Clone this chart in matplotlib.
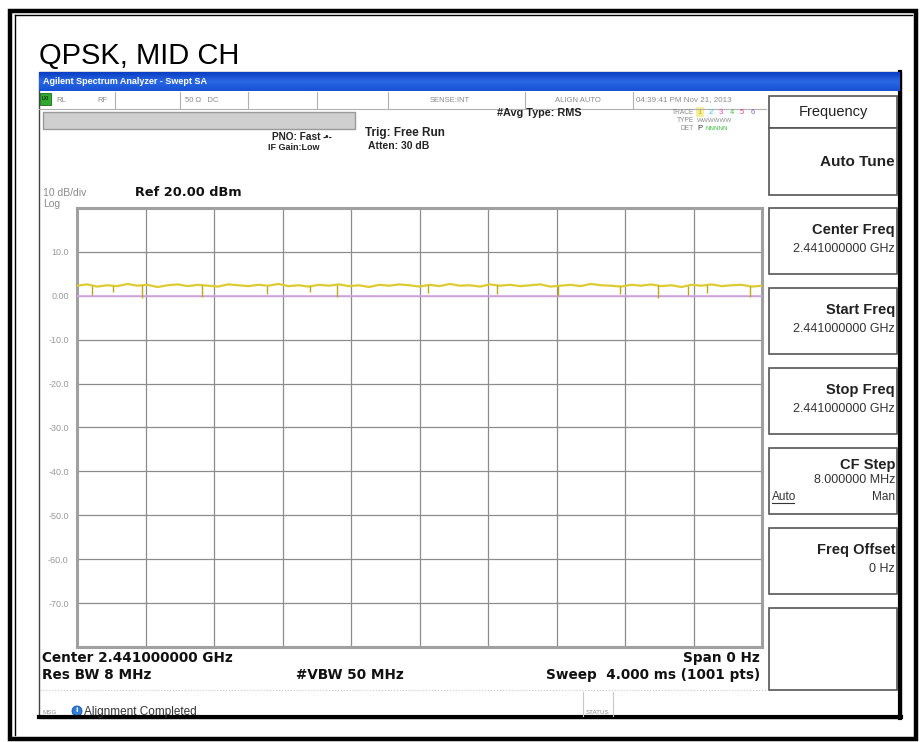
import numpy as np
import matplotlib
matplotlib.use("Agg")
import matplotlib.pyplot as plt
from matplotlib.patches import Rectangle, Circle

# valores
sweep_ms = 4.0
ref_dbm = 20.0
bottom_dbm = -80.0
ytick_dbm = [10, 0, -10, -20, -30, -40, -50, -60, -70]
ytick_labels = ["10.0", "0.00", "-10.0", "-20.0", "-30.0", "-40.0", "-50.0", "-60.0", "-70.0"]

trace_dbm = [2.3, 2.6, 2.1, 2.4, 2.2, 2.7, 2.3, 2.5, 2.0, 2.4,
             2.6, 2.2, 2.5, 2.3, 2.1, 2.6, 2.4, 2.2, 2.5, 2.3,
             2.7, 2.2, 2.4, 2.1, 2.5, 2.3, 2.6, 2.2, 2.4, 2.0,
             2.5, 2.3, 2.6, 2.4, 2.1, 2.5, 2.2, 2.7, 2.3, 2.4,
             2.1, 2.6, 2.3, 2.5, 2.2, 2.4, 2.6, 2.1, 2.3, 2.5,
             2.2, 2.7, 2.4, 2.3, 2.1, 2.5, 2.3, 2.6, 2.2, 2.4,
             2.0, 2.5, 2.3, 2.6, 2.2, 2.4, 2.5, 2.1, 2.3]
dip_ms = [0.09, 0.21, 0.38, 0.73, 1.11, 1.36, 1.52, 2.05, 2.45, 2.81, 3.17, 3.39, 3.57, 3.68, 3.93]
dip_dbm = [0.2, 0.8, -0.4, -0.2, 0.5, 0.9, -0.3, 0.6, 0.4, -0.1, 0.3, -0.5, 0.2, 0.7, -0.2]
display_line_dbm = 0.0

panel_boxes = [("Center Freq", "2.441000000 GHz"),
               ("Start Freq", "2.441000000 GHz"),
               ("Stop Freq", "2.441000000 GHz"),
               ("CF Step", "8.000000 MHz"),
               ("Freq Offset", "0 Hz")]

W, H = 921, 742
fig = plt.figure(figsize=(W / 100, H / 100), dpi=100)
fig.patch.set_facecolor("white")

# camada de decoracao em coordenadas de pixel
deco = fig.add_axes([0, 0, 1, 1])
deco.set_xlim(0, W)
deco.set_ylim(H, 0)
deco.axis("off")

FONT = "Liberation Sans"
SCR = "DejaVu Sans"  # fonte larga, parecida com a da tela do analisador


def txt(x, y, s, size=8, weight="normal", color="black", ha="left", va="center", family=FONT, **kw):
    deco.text(x, y, s, fontsize=size, fontweight=weight, color=color, ha=ha, va=va,
              family=family, **kw)


def box(x, y, w, h, fc="none", ec="black", lw=1.0, z=1):
    deco.add_patch(Rectangle((x, y), w, h, facecolor=fc, edgecolor=ec, linewidth=lw, zorder=z))


# moldura externa
box(10, 11, 906, 728, ec="black", lw=3.2)
deco.plot([15, 15], [15, 735], color="black", lw=1.0)
deco.plot([15, 912], [15, 15], color="black", lw=1.0)

# titulo
txt(39, 64, "QPSK, MID CH", size=21, va="baseline")

# janela do analisador
box(39, 72, 862, 646, fc="white", ec="#444444", lw=1.0)
deco.plot([900, 900], [72, 718], color="black", lw=3)
deco.plot([39, 901], [717, 717], color="black", lw=3)

# barra azul de titulo
grad = np.linspace(0, 1, 20).reshape(-1, 1)
deco.imshow(grad, extent=(39, 899, 91, 72), aspect="auto",
            cmap=matplotlib.colors.LinearSegmentedColormap.from_list("b", ["#0b3fc4", "#2a68e4", "#1652d4"]),
            zorder=2)
txt(43, 81, "Agilent Spectrum Analyzer - Swept SA", size=6.5, weight="bold", color="white", zorder=3)

# linha de status
grey = "#8a8a8a"
box(40, 93, 11, 12, fc="#2faa2f", ec="#1a6a1a", lw=0.6)
txt(45.5, 99, "LXI", size=3.5, color="black", ha="center")
for sx in [115, 180, 248, 317, 388, 525, 633]:
    deco.plot([sx, sx], [92, 108], color="#b0b0b0", lw=0.8)
txt(56, 100, "RL", size=5.5, color=grey)
txt(97, 100, "RF", size=5.5, color=grey)
txt(185, 100, "50 Ω   DC", size=5.5, color=grey)
txt(430, 100, "SENSE:INT", size=5.5, color=grey)
txt(555, 100, "ALIGN AUTO", size=5.5, color=grey)
txt(636, 100, "04:39:41 PM Nov 21, 2013", size=5.8, color=grey)
deco.plot([39, 766], [108.5, 108.5], color="#b0b0b0", lw=0.8)

# barra cinza de marcador
box(43, 112, 312, 17, fc="#cfcfcf", ec="#9a9a9a", lw=1.0)

txt(272, 137, "PNO: Fast", size=7.3, weight="bold", color="#222222")
txt(323, 137, "-•-", size=7, weight="bold", color="#222222")
txt(268, 147, "IF Gain:Low", size=6.5, weight="bold", color="#222222")
txt(365, 133, "Trig: Free Run", size=8.5, weight="bold", color="#222222")
txt(368, 146, "Atten: 30 dB", size=7.5, weight="bold", color="#222222")
txt(497, 113, "#Avg Type: RMS", size=7.8, weight="bold", color="#222222")

txt(694, 112, "TRACE", size=4.8, color=grey, ha="right")
txt(694, 121, "TYPE", size=4.8, color=grey, ha="right")
txt(694, 129, "DET", size=4.8, color=grey, ha="right")
box(696, 107, 8, 10, fc="#f4f0a0", ec="none", lw=0)
trace_colors = ["#c8b400", "#30c0e0", "#e040c0", "#40c040", "#e04080", "#8060e0"]
for i, c in enumerate(trace_colors):
    txt(700 + i * 10.5, 112, str(i + 1), size=5.5, color=c, ha="center")
txt(697, 121, "WWWWWW", size=4.5, color=grey)
txt(697, 129, "P", size=5.5, color="#333333")
txt(705, 129, "NNNNN", size=4.5, color="#40c040")

txt(43, 193, "10 dB/div", size=7.5, color=grey)
txt(43, 204, "Log", size=7.5, color=grey)
txt(135, 193, "Ref 20.00 dBm", size=9.3, weight="bold", color="#111111", family=SCR)

# painel direito
pl, pw = 769, 128
box(pl, 96, pw, 32, fc="white", ec="#555555", lw=1.2)
txt(pl + pw / 2, 112, "Frequency", size=10.5, color="#222222", ha="center")
box(pl, 128, pw, 67, fc="white", ec="#555555", lw=1.2)
txt(895, 162, "Auto Tune", size=11, weight="bold", color="#222222", ha="right")
for i, (name, val) in enumerate(panel_boxes):
    top = 208 + i * 80
    box(pl, top, pw, 66, fc="white", ec="#555555", lw=1.2)
    if name == "CF Step":
        txt(895, top + 17, name, size=10.5, weight="bold", color="#222222", ha="right")
        txt(895, top + 32, val, size=9, color="#333333", ha="right")
        txt(772, top + 49, "Auto", size=8.5, color="#333333")
        deco.plot([772, 794], [top + 55, top + 55], color="#333333", lw=0.8)
        txt(895, top + 49, "Man", size=8.5, color="#333333", ha="right")
    else:
        txt(895, top + 22, name, size=10.5, weight="bold", color="#222222", ha="right")
        txt(895, top + 41, val, size=9, color="#333333", ha="right")
box(pl, 608, pw, 82, fc="white", ec="#555555", lw=1.2)

# textos de rodape
foot = dict(size=9.8, weight="bold", color="#111111", family=SCR)
txt(42, 658, "Center 2.441000000 GHz", **foot)
txt(42, 675, "Res BW 8 MHz", **foot)
txt(296, 675, "#VBW 50 MHz", **foot)
txt(760, 658, "Span 0 Hz", ha="right", **foot)
txt(760, 675, "Sweep  4.000 ms (1001 pts)", ha="right", **foot)
deco.plot([40, 766], [690, 690], color="#c8c8c8", lw=0.8, ls=":")
txt(42, 712, "MSG", size=4.5, color=grey)
deco.add_patch(Circle((77, 711), 5, facecolor="#2f7fd8", edgecolor="#1a4fa0", lw=0.6))
txt(77, 711, "i", size=6, weight="bold", color="white", ha="center")
txt(84, 712, "Alignment Completed", size=8.5, color="#333333")
deco.plot([583, 583], [692, 716], color="#c8c8c8", lw=0.8)
deco.plot([613, 613], [692, 716], color="#c8c8c8", lw=0.8)
txt(598, 712, "STATUS", size=4.5, color=grey, ha="center")

# area de grafico
x0, x1, y0, y1 = 77, 762, 208, 647
ax = fig.add_axes([x0 / W, 1 - y1 / H, (x1 - x0) / W, (y1 - y0) / H])
ax.set_facecolor("white")
ax.set_xlim(0, sweep_ms)
ax.set_ylim(bottom_dbm, ref_dbm)
ax.set_xticks(np.linspace(0, sweep_ms, 11))
ax.set_xticklabels([])
ax.set_yticks(ytick_dbm)
ax.set_yticklabels(ytick_labels, fontsize=6.5, color="#999999", family=FONT)
ax.tick_params(length=0, pad=6)
ax.grid(True, color="#8c8c8c", lw=0.9)
for sp in ax.spines.values():
    sp.set_color("#a0a0a0")
    sp.set_linewidth(2.2)

ax.axhline(display_line_dbm, color="#d6a6e6", lw=1.2, zorder=3)
t = np.linspace(0, sweep_ms, len(trace_dbm))
ax.plot(t, trace_dbm, color="#ddcc30", lw=1.6, zorder=4)
base = np.interp(dip_ms, t, trace_dbm)
ax.vlines(dip_ms, dip_dbm, base, color="#b8a820", lw=1.0, zorder=4)

fig.savefig("out.png", dpi=100)
